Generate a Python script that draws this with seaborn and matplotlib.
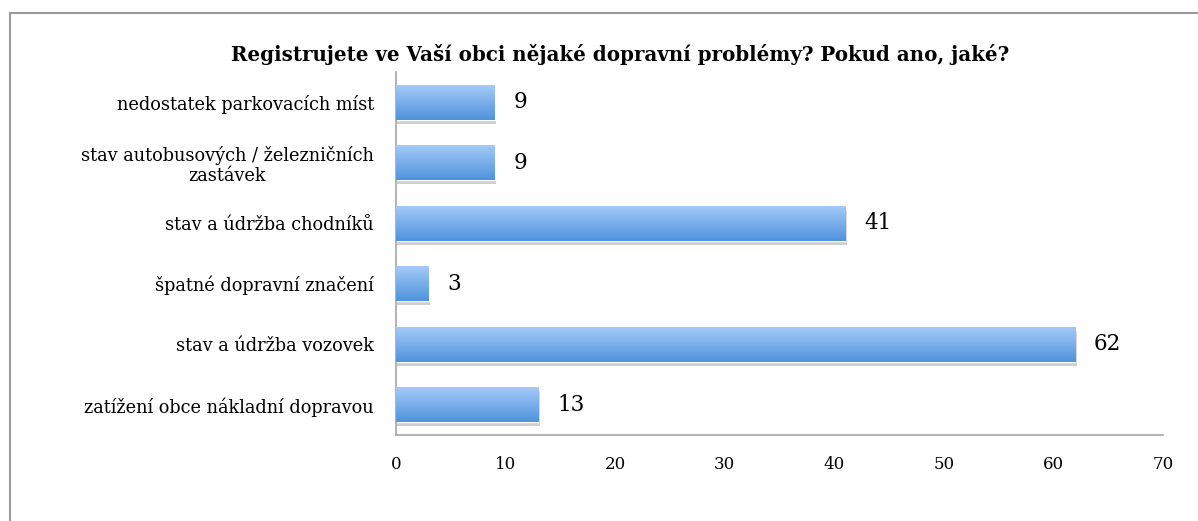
import numpy as np
import pandas as pd
import seaborn as sns
import matplotlib.pyplot as plt
import matplotlib.patheffects as pe
from matplotlib.patches import Rectangle
from matplotlib.colors import LinearSegmentedColormap

categories = ['nedostatek parkovacích míst',
              'stav autobusových / železničních\nzastávek',
              'stav a údržba chodníků',
              'špatné dopravní značení',
              'stav a údržba vozovek',
              'zatížení obce nákladní dopravou']
counts = [9, 9, 41, 3, 62, 13]
x_ticks = [0, 10, 20, 30, 40, 50, 60, 70]
title = 'Registrujete ve Vaší obci nějaké dopravní problémy? Pokud ano, jaké?'

sns.set_style('white')
plt.rcParams['font.family'] = ['DejaVu Serif']
plt.rcParams['text.color'] = 'black'
plt.rcParams['xtick.color'] = 'black'
plt.rcParams['ytick.color'] = 'black'


def main():
    df = pd.DataFrame({'problem': categories, 'count': counts})
    fig = plt.figure(figsize=(11.98, 5.21), dpi=100)
    ax = fig.add_axes([0.3306, 0.165, 0.6402, 0.697])

    sns.barplot(data=df, x='count', y='problem', orient='h',
                color='#5a9be0', width=0.58, ax=ax)

    # gradient fill on every bar, with a soft shadow below
    cmap = LinearSegmentedColormap.from_list('bar', ['#a6cbf9', '#4f93dc'])
    grad = np.linspace(0, 1, 64).reshape(-1, 1)
    for p in ax.patches:
        p.set_path_effects([pe.SimplePatchShadow(offset=(1, -3),
                                                 shadow_rgbFace='#888888',
                                                 alpha=0.4),
                            pe.Normal()])
        x0, y0 = p.get_x(), p.get_y()
        w, h = p.get_width(), p.get_height()
        im = ax.imshow(grad, cmap=cmap, aspect='auto', origin='upper',
                       extent=[x0, x0 + w, y0 + h, y0], zorder=3)
        im.set_clip_path(p)

    ax.set_xlim(0, 70)
    ax.set_ylim(len(categories) - 0.5, -0.5)
    ax.set_xticks(x_ticks)
    ax.set_xlabel('')
    ax.set_ylabel('')
    ax.tick_params(axis='x', labelsize=12, pad=15, length=0)
    ax.tick_params(axis='y', labelsize=12.8, pad=16, length=0)
    for lab in ax.get_yticklabels():
        lab.set_multialignment('center')
        lab.set_linespacing(1.15)

    for i, v in enumerate(counts):
        ax.text(v + 1.7, i, str(v), va='center', ha='left', fontsize=15.5,
                color='black', zorder=4)

    for side in ['top', 'right']:
        ax.spines[side].set_visible(False)
    for side in ['left', 'bottom']:
        ax.spines[side].set_color('#a6a6a6')
        ax.spines[side].set_linewidth(1.2)

    fig.text(0.518, 0.895, title, ha='center', va='center',
             fontsize=14.3, fontweight='bold')

    # outer frame of the chart area
    fig.patches.append(Rectangle((0.0083, -0.1), 1.1, 1.075,
                                 transform=fig.transFigure, fill=False,
                                 edgecolor='#9a9a9a', linewidth=1.5))

    plt.savefig('out.png', dpi=100)


if __name__ == '__main__':
    main()
